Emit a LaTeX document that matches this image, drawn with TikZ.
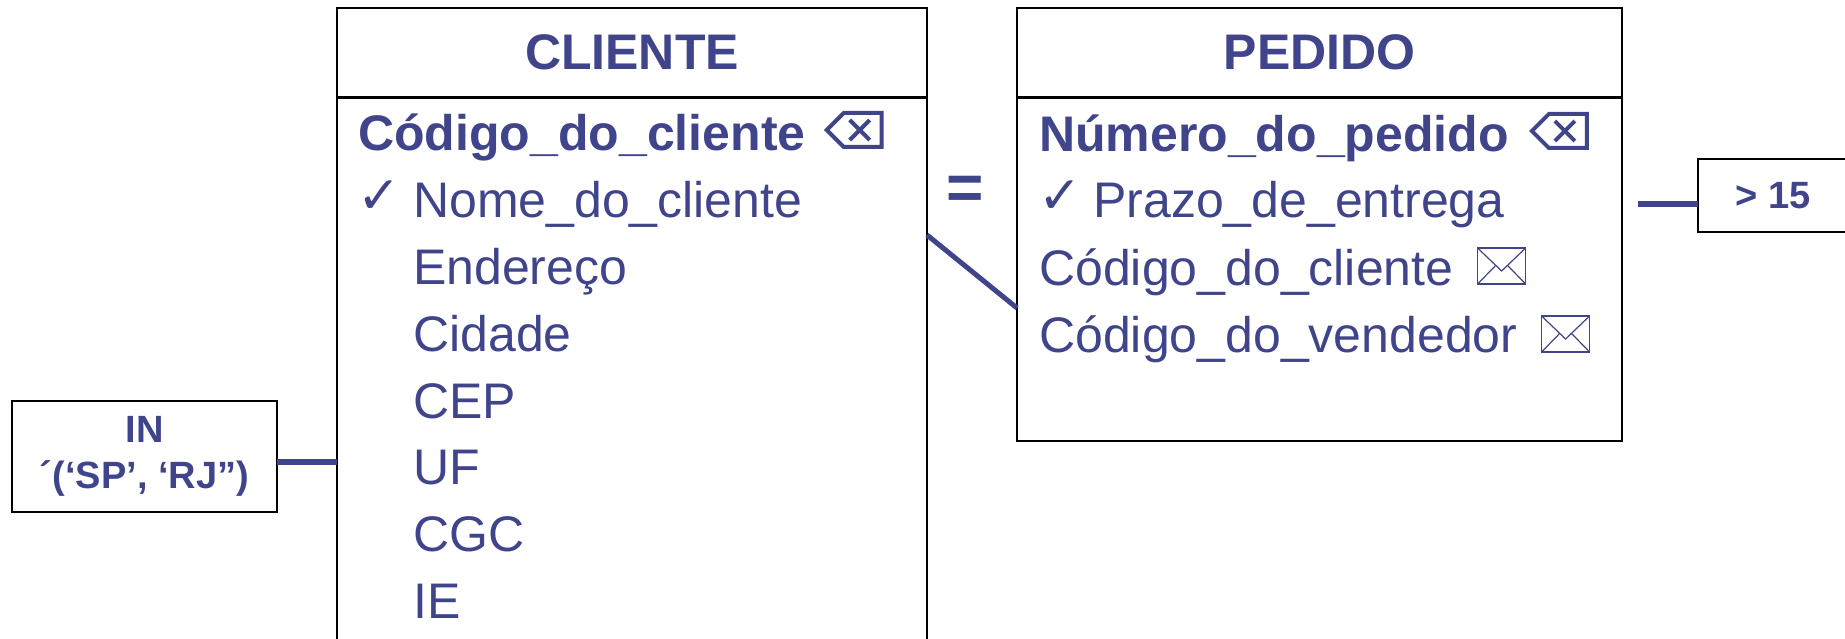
\documentclass[tikz,border=0pt]{standalone}
\usepackage{fontspec}
\setmainfont{Liberation Sans}
\newfontfamily\dejavu{DejaVu Sans}
\usetikzlibrary{calc}
\definecolor{ink}{RGB}{64,69,139}
\tikzset{
  entity/.style={draw=black, line width=2.5pt, inner sep=0pt, outer sep=0pt},
  attr/.style={anchor=base west, inner sep=0pt, text=ink, font=\fontsize{50}{60}\selectfont},
  keyattr/.style={anchor=base west, inner sep=0pt, text=ink, font=\bfseries\fontsize{50}{60}\selectfont},
  title/.style={anchor=base, inner sep=0pt, text=ink, font=\bfseries\fontsize{50}{60}\selectfont},
  tick/.style={anchor=base west, inner sep=0pt, text=ink, font=\dejavu\fontsize{52}{60}\selectfont},
  cond/.style={draw=black, line width=2.5pt, inner sep=0pt, outer sep=0pt, text=ink, align=center, font=\bfseries\fontsize{38}{46}\selectfont},
  link/.style={draw=ink, line width=6pt},
  keyicon/.pic={
    \draw[ink, line width=4pt, line join=miter] (0,-21) -- (17,-38) -- (55,-38) -- (55,-4) -- (17,-4) -- cycle;
    \draw[ink, line width=4pt] (23,-31) -- (43,-11) (23,-11) -- (43,-31);
  },
  mailicon/.pic={
    \draw[ink, line width=1.6pt] (0,0) rectangle (48,-36);
    \draw[ink, line width=1.2pt] (0,-36) -- (24,-13) -- (48,-36) (0,0) -- (18,-18.5) (48,0) -- (30,-18.5);
  }
}
\begin{document}
\begin{tikzpicture}[x=1pt, y=-1pt]
\useasboundingbox (0,0) rectangle (1845,639);

% CLIENTE entity
\node[entity, minimum width=590pt, minimum height=700pt, anchor=north west] (cli) at (337,8) {};
\draw[line width=3pt] ($(cli.north west)+(0,90)$) -- ($(cli.north east)+(0,90)$);
\node[title] (cliT) at ($(cli.north)+(0,62)$) {CLIENTE};
\node[keyattr] (c1) at (358,151) {Código\_do\_cliente};
\pic at ($(c1.base east)+(21,0)$) {keyicon};
\node[tick] (ck1) at (357,214) {✓};
\node[attr] (c2) at (413,218) {Nome\_do\_cliente};
\node[attr] (c3) at (413,284) {Endereço};
\node[attr] (c4) at (413,351) {Cidade};
\node[attr] (c5) at (413,418) {CEP};
\node[attr] (c6) at (413,484) {UF};
\node[attr] (c7) at (413,551) {CGC};
\node[attr] (c8) at (413,618) {IE};

% PEDIDO entity
\node[entity, minimum width=605pt, minimum height=433pt, anchor=north west] (ped) at (1017,8) {};
\draw[line width=3pt] ($(ped.north west)+(0,90)$) -- ($(ped.north east)+(0,90)$);
\node[title] (pedT) at ($(ped.north)+(0,62)$) {PEDIDO};
\node[keyattr] (p1) at (1039,152) {Número\_do\_pedido};
\pic at ($(p1.base east)+(23,0)$) {keyicon};
\node[tick] (ck2) at (1038,214) {✓};
\node[attr] (p2) at (1093,218) {Prazo\_de\_entrega};
\node[attr] (p3) at (1039,285) {Código\_do\_cliente};
\pic at ($(p3.base east)+(24,-1)$) {mailicon};
\node[attr] (p4) at (1039,352) {Código\_do\_vendedor};
\pic at ($(p4.base east)+(24,0)$) {mailicon};

% condition boxes
\node[cond, minimum width=265pt, minimum height=111pt] (inb) at (144.5,456.5) {IN\\´(‘SP’, ‘RJ”)};
\node[cond, minimum width=150pt, minimum height=73pt] (gt) at (1773,195.5) {> 15};

% equals sign
\node[anchor=base, inner sep=0pt, text=ink, font=\bfseries\fontsize{64}{70}\selectfont] (eq) at (965,210) {=};

% connectors
\coordinate (inj) at ($(inb.east)+(0,5.5)$);
\draw[link] (inj) -- (inj -| cli.west);
\coordinate (gtj) at ($(gt.west)+(-60,8.5)$);
\draw[link] (gtj) -- (gtj -| gt.west);
\draw[link, line width=5pt] ($(cli.north east)+(0,227)$) -- ($(ped.north west)+(0,300)$);
\end{tikzpicture}
\end{document}
